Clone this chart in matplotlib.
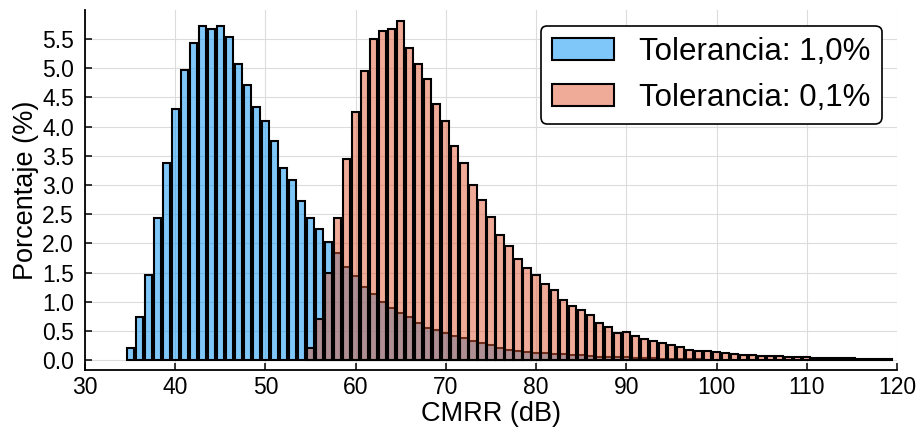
import matplotlib
matplotlib.use("Agg")
import matplotlib.pyplot as plt
import numpy as np

plt.rcParams['font.family'] = ['Liberation Sans', 'DejaVu Sans']

# bin centres (dB) and percentages
cmrr_1 = np.arange(35, 101)
pct_1 = [0.21, 0.73, 1.46, 2.44, 3.38, 4.30, 4.97, 5.43, 5.73, 5.67,
         5.73, 5.53, 5.07, 4.71, 4.34, 4.10, 3.75, 3.30, 3.09, 2.73,
         2.43, 2.24, 2.02, 1.83, 1.60, 1.44, 1.26, 1.14, 1.00, 0.89,
         0.80, 0.74, 0.64, 0.55, 0.51, 0.46, 0.41, 0.37, 0.33, 0.30,
         0.25, 0.21, 0.18, 0.16, 0.14, 0.13, 0.12, 0.11, 0.10, 0.09,
         0.08, 0.07, 0.06, 0.055, 0.05, 0.045, 0.04, 0.035, 0.03, 0.025,
         0.02, 0.02, 0.015, 0.015, 0.01, 0.01]

cmrr_01 = np.arange(55, 120)
pct_01 = [0.21, 0.71, 1.50, 2.44, 3.45, 4.25, 4.96, 5.50, 5.64, 5.67,
          5.81, 5.35, 5.07, 4.82, 4.38, 4.10, 3.67, 3.38, 3.00, 2.74,
          2.46, 2.14, 1.95, 1.73, 1.58, 1.45, 1.30, 1.20, 1.03, 0.93,
          0.86, 0.77, 0.64, 0.57, 0.46, 0.48, 0.42, 0.36, 0.32, 0.29,
          0.26, 0.23, 0.18, 0.16, 0.16, 0.14, 0.12, 0.11, 0.09, 0.09,
          0.07, 0.07, 0.07, 0.06, 0.06, 0.05, 0.04, 0.04, 0.035, 0.03,
          0.03, 0.025, 0.02, 0.02, 0.015]

labels = ["Tolerancia: 1,0%", "Tolerancia: 0,1%"]

fig = plt.figure(figsize=(9.19, 4.32), dpi=100)
ax = fig.add_axes([0.0925, 0.1435, 0.8835, 0.8335])

blue = (0.0, 0.57, 0.96, 0.5)
salmon = (0.88, 0.35, 0.19, 0.5)

ax.bar(cmrr_1, pct_1, width=0.8, color=blue, edgecolor='black', lw=1.5,
       label=labels[0], zorder=2)
ax.bar(cmrr_01, pct_01, width=0.8, color=salmon, edgecolor='black', lw=1.5,
       label=labels[1], zorder=3)

ax.set_xlim(30, 120)
ax.set_ylim(-0.17, 6.0)
ax.set_xticks(range(30, 121, 10))
ax.set_yticks(np.arange(0, 5.51, 0.5))
ax.set_yticklabels(["%.1f" % v for v in np.arange(0, 5.51, 0.5)])

ax.grid(color='#dcdcdc', lw=0.8)
ax.set_axisbelow(True)
for s in ['top', 'right']:
    ax.spines[s].set_visible(False)
for s in ['left', 'bottom']:
    ax.spines[s].set_linewidth(1.3)
ax.tick_params(direction='in', length=5, width=1.1, labelsize=16.5)
ax.tick_params(axis='x', pad=4)
ax.tick_params(axis='y', pad=8)

ax.set_xlabel("CMRR (dB)", fontsize=19.5, labelpad=2)
ax.set_ylabel("Porcentaje (%)", fontsize=19.5, labelpad=2)

leg = ax.legend(loc='upper right', bbox_to_anchor=(0.981, 0.955), fontsize=22.5,
                framealpha=1, fancybox=True, borderaxespad=0, borderpad=0.35)
leg.get_frame().set_edgecolor('black')
leg.get_frame().set_linewidth(1.2)

plt.savefig("out.png", dpi=100)
